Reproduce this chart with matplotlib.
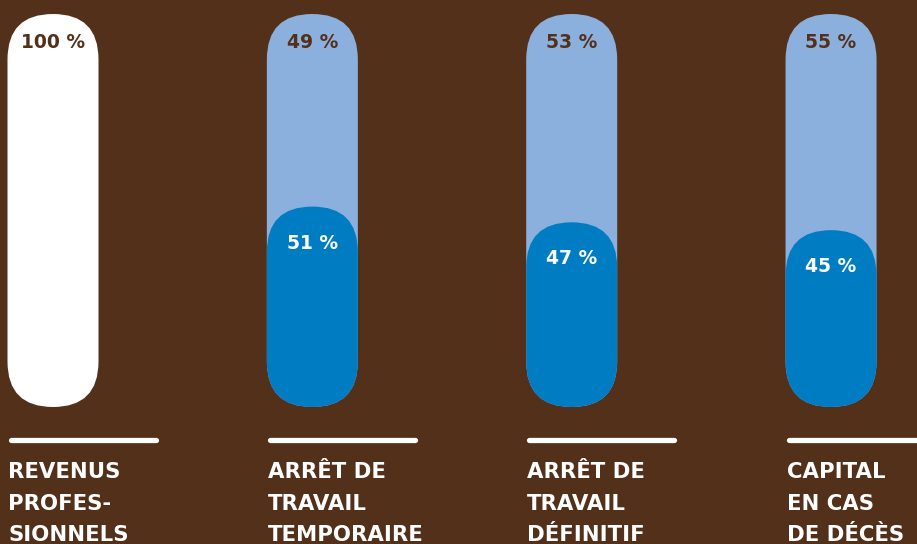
import matplotlib
matplotlib.use("Agg")
import matplotlib.pyplot as plt
from matplotlib.patches import FancyBboxPatch

categories = [["REVENUS", "PROFES-", "SIONNELS"],
              ["ARRÊT DE", "TRAVAIL", "TEMPORAIRE"],
              ["ARRÊT DE", "TRAVAIL", "DÉFINITIF"],
              ["CAPITAL", "EN CAS", "DE DÉCÈS"]]
covered = [100, 51, 47, 45]      # dark blue / white part
uncovered = [0, 49, 53, 55]      # light blue part

BG = "#53301a"
LIGHT = "#8cb0dd"
DARK = "#007cc2"
WHITE = "#ffffff"

W, H = 917, 544
fig = plt.figure(figsize=(W / 100, H / 100), dpi=100, facecolor=BG)
ax = fig.add_axes([0, 0, 1, 1])
ax.set_facecolor(BG)
ax.axis("off")

# pixel geometry -> data scales
px_per_x = 259.35
px_per_y = 3.93
x0_px = 53.0
bottom_px = 407.0
ax.set_xlim(-x0_px / px_per_x, (W - x0_px) / px_per_x)
ax.set_ylim(-(H - bottom_px) / px_per_y, bottom_px / px_per_y)

bw = 91.0 / px_per_x
r = 45.5 / px_per_x
aspect = px_per_x / px_per_y

def capsule(xc, y0, h, color, z):
    p = FancyBboxPatch((xc - bw / 2, y0), bw, h,
                       boxstyle=f"round,pad=0,rounding_size={r}",
                       mutation_aspect=aspect, facecolor=color,
                       edgecolor="none", zorder=z)
    ax.add_patch(p)

font = "DejaVu Sans"
pfs = 13.5
cfs = 15.3
for i, (cov, unc) in enumerate(zip(covered, uncovered)):
    total = cov + unc
    if unc > 0:
        capsule(i, 0, total, LIGHT, 1)
        capsule(i, 0, cov, DARK, 2)
        ax.text(i, total - 7.2, f"{unc} %", color=BG, fontsize=pfs,
                fontweight="bold", family=font, ha="center", va="center", zorder=3)
        ax.text(i, cov - 9.3, f"{cov} %", color=WHITE, fontsize=pfs,
                fontweight="bold", family=font, ha="center", va="center", zorder=3)
    else:
        capsule(i, 0, cov, WHITE, 1)
        ax.text(i, cov - 7.2, f"{cov} %", color=BG, fontsize=pfs,
                fontweight="bold", family=font, ha="center", va="center", zorder=3)

    left = i - bw / 2
    ax.plot([left + 3 / px_per_x, left + 148 / px_per_x], [-8.4, -8.4],
            color=WHITE, lw=3.8, solid_capstyle="round", zorder=3)
    for k, line in enumerate(categories[i]):
        base_px = [478, 510, 541][k]
        ax.text(left + 1 / px_per_x, (bottom_px - base_px) / px_per_y, line,
                color=WHITE, fontsize=cfs, fontweight="bold", family=font,
                ha="left", va="baseline", zorder=3)

fig.savefig("out.png", dpi=100, facecolor=BG)
